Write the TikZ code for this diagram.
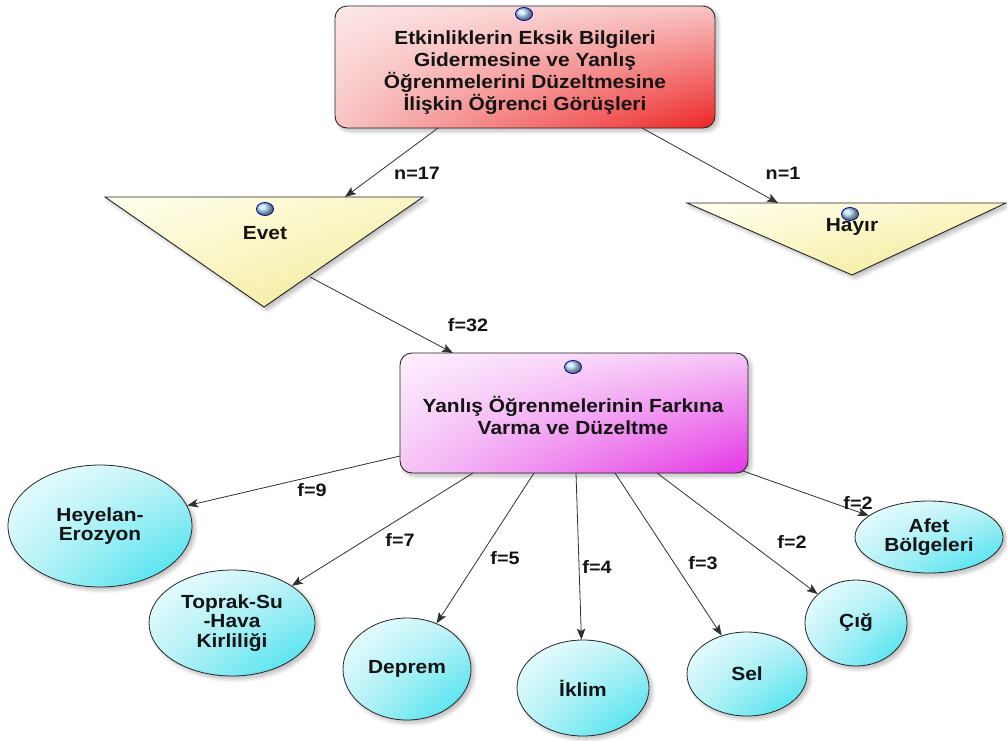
\documentclass[tikz,border=0pt]{standalone}
\usepackage{fontspec}
\setmainfont{Liberation Sans}[FakeStretch=1.1]
\usetikzlibrary{arrows.meta,shapes.geometric,shadings,shadows.blur}

\definecolor{inkc}{HTML}{141414}
\definecolor{linec}{HTML}{303030}
\definecolor{redA}{HTML}{FDE8E8}
\definecolor{redB}{HTML}{F8C4C4}
\definecolor{redC}{HTML}{EE2424}
\definecolor{magA}{HTML}{FDF0FD}
\definecolor{magB}{HTML}{F6C6F6}
\definecolor{magC}{HTML}{E434E4}
\definecolor{yelA}{HTML}{FFFFF0}
\definecolor{yelB}{HTML}{FBF6C4}
\definecolor{yelC}{HTML}{F0E890}
\definecolor{cyaA}{HTML}{F2FEFF}
\definecolor{cyaB}{HTML}{C0F2F6}
\definecolor{cyaC}{HTML}{36E0EE}
\definecolor{bubC}{HTML}{B4E2FC}

\tikzset{
  softshadow/.style={blur shadow={shadow xshift=3pt,shadow yshift=-3pt,
      shadow blur steps=8,shadow opacity=28,shadow blur radius=4pt}},
  txt/.style={align=center,text=inkc,inner sep=0pt,
      font=\fontsize{19}{22}\selectfont\bfseries},
  lbl/.style={text=inkc,inner sep=0pt,font=\fontsize{18}{20}\selectfont\bfseries},
  redbox/.style={rectangle,rounded corners=12pt,draw=black!85,line width=0.9pt,
      minimum width=380pt,minimum height=122pt,softshadow,
      shade,upper left=redA,upper right=redB,lower left=redB,lower right=redC},
  magbox/.style={rectangle,rounded corners=12pt,draw=black!85,line width=0.9pt,
      minimum width=348pt,minimum height=120pt,softshadow,
      shade,upper left=magA,upper right=magB,lower left=magB,lower right=magC},
  tri/.style={draw=black!85,line width=0.9pt,line join=miter,softshadow,
      shade,upper left=yelA,upper right=yelB,lower left=yelB,lower right=yelC},
  ell/.style={ellipse,draw=black!85,line width=0.8pt,inner sep=0pt,softshadow,
      shade,upper left=cyaA,upper right=cyaB,lower left=cyaB,lower right=cyaC,
      align=center,text=inkc,font=\fontsize{19}{19.5}\selectfont\bfseries},
  bubble/.style={ellipse,minimum width=17pt,minimum height=13pt,inner sep=0pt,
      draw=blue!60!black,line width=0.8pt,ball color=bubC},
  conn/.style={draw=linec,line width=0.8pt,
      -{Stealth[length=11pt,width=8.5pt,inset=2.5pt]}}
}

\begin{document}
\begin{tikzpicture}[x=1pt,y=-1pt]
\useasboundingbox (0,0) rectangle (1007,740);

% top question box
\node[redbox] (top) at (525,67) {};
\node[bubble] (b-top) at (524,14) {};
\node[txt] (top-text) at (525,73) {Etkinliklerin Eksik Bilgileri\\Gidermesine ve Yanlış\\Öğrenmelerini Düzeltmesine\\İlişkin Öğrenci Görüşleri};

% answer triangles
\path[tri] (105,197) -- (423,197) -- (264,307) -- cycle;
\node[bubble] (b-evet) at (265,209) {};
\node[txt] (evet) at (265,233) {Evet};

\path[tri] (687,203) -- (1006,203) -- (852,275) -- cycle;
\node[bubble] (b-hayir) at (850,214) {};
\node[txt] (hayir) at (852,227) {Hayır};

% theme box
\node[magbox] (mag) at (574,413) {};
\node[bubble] (b-mag) at (573,367) {};
\node[txt] (mag-text) at (573,415) {Yanlış Öğrenmelerinin Farkına\\Varma ve Düzeltme};

% category ellipses
\node[ell,minimum width=184pt,minimum height=122pt] (heyelan) at (100,526) {Heyelan-\\Erozyon};
\node[ell,minimum width=166pt,minimum height=106pt] (toprak) at (232,623) {Toprak-Su\\-Hava\\Kirliliği};
\node[ell,minimum width=128pt,minimum height=102pt] (deprem) at (407,669) {Deprem};
\node[ell,minimum width=132pt,minimum height=96pt] (iklim) at (583,688) {İklim};
\node[ell,minimum width=120pt,minimum height=84pt] (sel) at (747,674) {Sel};
\node[ell,minimum width=102pt,minimum height=86pt] (cig) at (856,623) {Çığ};
\node[ell,minimum width=148pt,minimum height=72pt] (afet) at (929,537) {Afet\\Bölgeleri};

% connector end points on box and triangle borders
\coordinate (top-l) at (438,128);
\coordinate (top-r) at (642,128);
\coordinate (evet-in) at (345,197);
\coordinate (hayir-in) at (778,203);
\coordinate (evet-out) at (310,277);
\coordinate (mag-in) at (453,353);
\coordinate (m-hey) at (400,456);
\coordinate (m-top) at (473,473);
\coordinate (m-dep) at (534,473);
\coordinate (m-ikl) at (576,473);
\coordinate (m-sel) at (615,473);
\coordinate (m-cig) at (657,473);
\coordinate (m-afe) at (743,471);

% connectors
\draw[conn] (top-l) -- (evet-in);
\draw[conn] (top-r) -- (hayir-in);
\draw[conn] (evet-out) -- (mag-in);
\draw[conn] (m-hey) -- (heyelan);
\draw[conn] (m-top) -- (toprak);
\draw[conn] (m-dep) -- (deprem);
\draw[conn] (m-ikl) -- (iklim);
\draw[conn] (m-sel) -- (sel);
\draw[conn] (m-cig) -- (cig);
\draw[conn] (m-afe) -- (afet);

% connector labels
\node[lbl] (l-17) at (417,173) {n=17};
\node[lbl] (l-1) at (783,173) {n=1};
\node[lbl] (l-32) at (468,325) {f=32};
\node[lbl] (l-9) at (312,490) {f=9};
\node[lbl] (l-7) at (400,540) {f=7};
\node[lbl] (l-5) at (505,558) {f=5};
\node[lbl] (l-4) at (597,567) {f=4};
\node[lbl] (l-3) at (703,563) {f=3};
\node[lbl] (l-2a) at (792,542) {f=2};
\node[lbl] (l-2b) at (858,503) {f=2};
\end{tikzpicture}
\end{document}
